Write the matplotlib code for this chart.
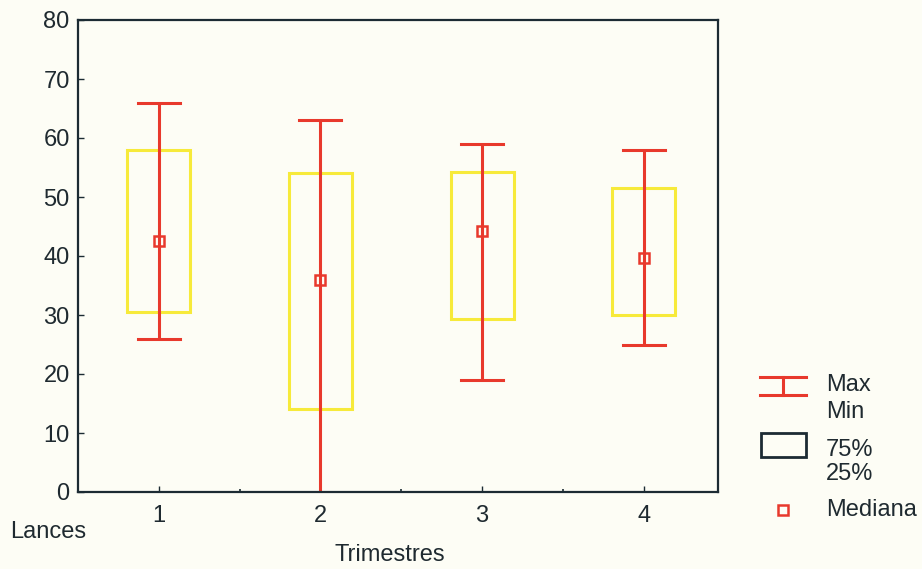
import matplotlib
matplotlib.use("Agg")
import matplotlib.pyplot as plt
from matplotlib.patches import Rectangle

# ---- data ----
trimestres = [1, 2, 3, 4]
maxs = [66, 63, 59, 58]
mins = [26, 0, 19, 25]
q75 = [58, 54, 54.3, 51.5]
q25 = [30.5, 14, 29.3, 30]
medians = [42.5, 36, 44.3, 39.7]
yticks = [0, 10, 20, 30, 40, 50, 60, 70, 80]

RED = "#e8392c"
YEL = "#f7ea3a"
BG = "#fdfdf5"
DARK = "#1c2b33"
TXT = "#1f2a30"
FONT = "Liberation Sans"
FS = 17

plt.rcParams['font.family'] = [FONT, 'DejaVu Sans']

W, H = 922, 569
fig = plt.figure(figsize=(W / 100, H / 100), dpi=100, facecolor=BG)
ax = fig.add_axes([78 / W, (H - 492) / H, 640 / W, 472 / H], facecolor=BG)

bw = 0.39
cw = 0.26
for x, mx, mn, hi, lo, md in zip(trimestres, maxs, mins, q75, q25, medians):
    ax.add_patch(Rectangle((x - bw / 2, lo), bw, hi - lo, fill=False,
                           edgecolor=YEL, lw=2.2, zorder=2))
    ax.plot([x, x], [mn, mx], color=RED, lw=2.2, zorder=3, solid_capstyle='butt')
    ax.plot([x - cw / 2, x + cw / 2], [mx, mx], color=RED, lw=2.2, zorder=3)
    if mn > 0:
        ax.plot([x - cw / 2, x + cw / 2], [mn, mn], color=RED, lw=2.2, zorder=3)
    ax.plot([x], [md], marker='s', ms=7, mfc='none', mec=RED, mew=1.8, zorder=4)

ax.set_xlim(0.5, 4.46)
ax.set_ylim(0, 80)
ax.set_xticks(trimestres)
ax.set_xticks([1.5, 2.5, 3.5], minor=True)
ax.set_yticks(yticks)
ax.tick_params(direction='in', length=4, width=1, colors=DARK, labelsize=FS,
               labelcolor=TXT, pad=6)
ax.tick_params(axis='x', pad=9)
ax.tick_params(axis='x', which='minor', direction='in', length=2.5, width=1.2, colors=DARK)
for s in ax.spines.values():
    s.set_color(DARK)
    s.set_linewidth(1.6)
    s.set_zorder(5)

fig.text(390 / W, 1 - 555 / H, "Trimestres", ha='center', va='center',
         fontsize=FS, color=TXT)
fig.text(10 / W, 1 - 532 / H, "Lances", ha='left', va='center',
         fontsize=FS, color=TXT)

# ---- legend (figure pixel overlay) ----
lg = fig.add_axes([0, 0, 1, 1], facecolor='none')
lg.set_xlim(0, W)
lg.set_ylim(H, 0)
lg.axis('off')
lg.plot([760, 806], [377, 377], color=RED, lw=2.2)
lg.plot([760, 806], [395, 395], color=RED, lw=2.2)
lg.plot([783, 783], [377, 395], color=RED, lw=2.2)
lg.add_patch(Rectangle((761, 433), 45, 24, fill=False, edgecolor=DARK, lw=2))
lg.plot([783], [510], marker='s', ms=7, mfc='none', mec=RED, mew=1.8)
for txt, y in [("Max", 385), ("Min", 412), ("75%", 450), ("25%", 474), ("Mediana", 510)]:
    lg.text(826, y, txt, ha='left', va='center', fontsize=FS, color=TXT)

fig.savefig("out.png", dpi=100, facecolor=BG)
